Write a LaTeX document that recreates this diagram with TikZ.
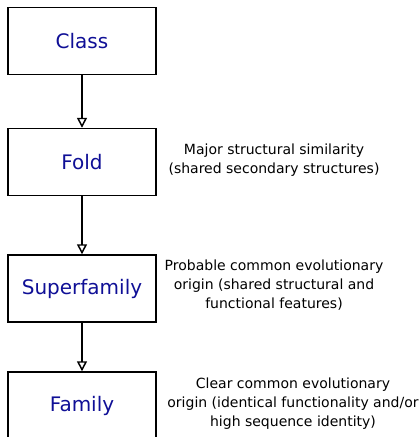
\documentclass[tikz,border=0pt]{standalone}
\usepackage{fontspec}
\setmainfont{DejaVu Sans}
\usetikzlibrary{arrows.meta}
\definecolor{levelblue}{RGB}{15,15,150}

\begin{document}
\begin{tikzpicture}[x=0.75pt, y=-0.75pt, >={Triangle[open, length=7.5pt, width=7.5pt]},
    level/.style={draw, line width=1.1pt, minimum width=111pt, minimum height=50.25pt,
      text=levelblue, font=\fontsize{15}{18}\selectfont},
    note/.style={align=center, font=\fontsize{10.5}{14.25}\selectfont}]
      \useasboundingbox (0, 0) rectangle (420, 437);

      \node[level] (class) at (82, 41) {Class};
      \node[level] (fold) at (82, 162) {Fold};
      \node[level] (superfamily) at (82, 288.5) {Superfamily};
      \node[level] (family) at (82, 405.5) {Family};

      \draw[->, line width=1.1pt] (class) -- (fold);
      \draw[->, line width=1.1pt] (fold) -- (superfamily);
      \draw[->, line width=1.1pt] (superfamily) -- (family);

      \node[note] (foldnote) at (274, 160.5) {Major structural similarity\\(shared secondary structures)};
      \node[note] (superfamilynote) at (274, 285) {Probable common evolutionary\\origin (shared structural and\\functional features)};
      \node[note] (familynote) at (293, 404) {Clear common evolutionary\\origin (identical functionality and/or\\high sequence identity)};

    \end{tikzpicture}
\end{document}
